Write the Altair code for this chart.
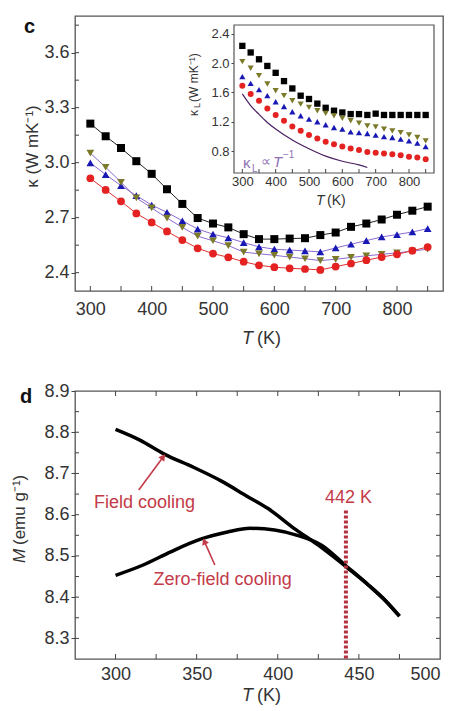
import altair as alt
import pandas as pd

FONT = "Liberation Sans"

# ---------------- panel c : main (total kappa) ----------------
T_K = [300, 325, 350, 375, 400, 425, 450, 475, 500, 525, 550, 575,
       600, 625, 650, 675, 700, 725, 750, 775, 800, 825, 850]

kappa_sq = [3.213, 3.144, 3.080, 3.008, 2.939, 2.855, 2.775, 2.698, 2.668, 2.647, 2.610, 2.583,
            2.583, 2.586, 2.588, 2.605, 2.619, 2.650, 2.668, 2.690, 2.716, 2.738, 2.760]
kappa_up = [2.999, 2.935, 2.875, 2.820, 2.769, 2.729, 2.683, 2.638, 2.610, 2.590, 2.564, 2.541,
            2.528, 2.523, 2.519, 2.513, 2.535, 2.555, 2.575, 2.595, 2.608, 2.622, 2.640]
kappa_down = [3.052, 2.975, 2.893, 2.808, 2.753, 2.698, 2.647, 2.599, 2.574, 2.548, 2.512, 2.503,
              2.495, 2.485, 2.476, 2.466, 2.473, 2.483, 2.492, 2.500, 2.508, 2.518, 2.528]
kappa_circ = [2.915, 2.851, 2.789, 2.723, 2.674, 2.625, 2.578, 2.533, 2.504, 2.484, 2.460, 2.440,
              2.430, 2.424, 2.420, 2.415, 2.433, 2.450, 2.468, 2.485, 2.500, 2.520, 2.540]

# ---------------- panel c : inset (lattice kappa) ----------------
kL_sq = [2.235, 2.145, 2.052, 1.961, 1.867, 1.754, 1.654, 1.555, 1.510, 1.447, 1.390, 1.350,
         1.326, 1.304, 1.304, 1.292, 1.310, 1.292, 1.292, 1.292, 1.292, 1.292, 1.292]
kL_up = [1.815, 1.724, 1.637, 1.555, 1.473, 1.408, 1.336, 1.281, 1.236, 1.199, 1.158, 1.121,
         1.098, 1.062, 1.052, 1.039, 1.016, 0.997, 0.984, 0.962, 0.938, 0.907, 0.860]
kL_down = [2.020, 1.930, 1.830, 1.715, 1.623, 1.555, 1.486, 1.440, 1.395, 1.350, 1.313, 1.281,
           1.245, 1.213, 1.180, 1.144, 1.130, 1.098, 1.075, 1.052, 1.020, 0.984, 0.938]
kL_circ = [1.692, 1.578, 1.486, 1.381, 1.290, 1.213, 1.134, 1.075, 1.020, 0.970, 0.925, 0.893,
           0.860, 0.833, 0.815, 0.788, 0.778, 0.765, 0.756, 0.742, 0.723, 0.710, 0.688]
fit_T = [300, 325, 350, 375, 400, 450, 500, 550, 600, 650, 675]
fit_kL = [1.58, 1.42, 1.30, 1.19, 1.10, 0.95, 0.83, 0.73, 0.66, 0.61, 0.575]

c_xticks = [300, 350, 400, 450, 500, 550, 600, 650, 700, 750, 800, 850]
c_xlabels = [300, 400, 500, 600, 700, 800]
c_ylabels = [2.4, 2.7, 3.0, 3.3, 3.6]
c_yminor = [2.4, 2.55, 2.7, 2.85, 3.0, 3.15, 3.3, 3.45, 3.6, 3.75]
in_xlabels = [300, 400, 500, 600, 700, 800]
in_xticks = [300, 350, 400, 450, 500, 550, 600, 650, 700, 750, 800, 850]
in_ylabels = [0.8, 1.2, 1.6, 2.0, 2.4]

# ---------------- panel d : magnetisation ----------------
fc_T = [300, 315, 330, 348, 365, 381, 394, 410, 425, 442, 456, 467, 475]
fc_M = [8.807, 8.781, 8.747, 8.715, 8.682, 8.645, 8.615, 8.567, 8.526, 8.474, 8.429, 8.389, 8.354]
zfc_T = [300, 317, 334, 352, 369, 383, 398, 412, 427, 442, 456, 467, 475]
zfc_M = [8.453, 8.478, 8.510, 8.540, 8.558, 8.567, 8.563, 8.550, 8.526, 8.476, 8.429, 8.389, 8.354]
tc_T = [442]
tc_M_top = [8.61]
tc_M_bot = [8.25]
d_xlabels = [300, 350, 400, 450, 500]
d_xticks = [300, 325, 350, 375, 400, 425, 450, 475]
d_ylabels = [8.3, 8.4, 8.5, 8.6, 8.7, 8.8, 8.9]
d_yminor = [8.3, 8.35, 8.4, 8.45, 8.5, 8.55, 8.6, 8.65, 8.7, 8.75, 8.8, 8.85]

labels_d = ["Field cooling", "Zero-field cooling", "442 K"]
labels_d_T = [317.8, 366.0, 443.6]
labels_d_M = [8.628, 8.441, 8.640]
arrow_T = [314.3, 361.2]
arrow_M = [8.660, 8.478]
arrow_T2 = [329.0, 355.0]
arrow_M2 = [8.738, 8.533]
arrow_angle = [37, 337]

W_C, H_C = 368, 275
W_D, H_D = 365, 268

RED = "#c33a48"
AX = "#444444"

# ---------- helpers: panel c main ----------
def xc(axis=None):
    return alt.X("T:Q", scale=alt.Scale(domain=[275, 875], nice=False, zero=False), axis=axis)

def yc(axis=None):
    return alt.Y("k:Q", scale=alt.Scale(domain=[2.3, 3.8], nice=False, zero=False), axis=axis)

ax_cx = alt.Axis(values=c_xlabels, title=None, tickSize=0, labelPadding=9, domain=False,
                 labelFontSize=18, grid=False)
ax_cy = alt.Axis(values=c_ylabels, format=".1f", title="κ (W mK⁻¹)", tickSize=4, labelPadding=2,
                 domain=False, labelFontSize=18, titleFontSize=17, grid=False,
                 titleX=-43, titleY=130, titleAngle=270, titleAlign="center",
                 titleBaseline="middle")

series = [
    (kappa_sq, kL_sq, "square", "#000000", "#222222", 64, 40),
    (kappa_up, kL_up, "triangle-up", "#1818b4", "#8a6ad0", 60, 38),
    (kappa_down, kL_down, "triangle-down", "#7a7a2a", "#8a6ad0", 60, 38),
    (kappa_circ, kL_circ, "circle", "#e42222", "#e03030", 60, 36),
]

main_layers = []
for i, (vals, _, shape, col, lcol, size, _s) in enumerate(series):
    df = pd.DataFrame({"T": T_K, "k": vals})
    base = alt.Chart(df)
    line = base.mark_line(color=lcol, strokeWidth=1).encode(x=xc(ax_cx), y=yc(ax_cy))
    pts = base.mark_point(shape=shape, filled=True, size=size, color=col, opacity=1).encode(
        x=xc(ax_cx), y=yc(ax_cy))
    main_layers += [line, pts]

cxt = alt.Chart(pd.DataFrame({"T": c_xticks})).mark_rule(color=AX, strokeWidth=1).encode(
    x=xc(ax_cx), y=alt.value(H_C), y2=alt.value(H_C - 5))
cyt = alt.Chart(pd.DataFrame({"k": c_yminor})).mark_rule(color=AX, strokeWidth=1).encode(
    y=yc(ax_cy), x=alt.value(0), x2=alt.value(4))

def txt(text, x, y, size, **kw):
    return alt.Chart(pd.DataFrame({"t": [text]})).mark_text(
        font=FONT, fontSize=size, **kw).encode(x=alt.value(x), y=alt.value(y), text="t:N")

c_title_T = txt("T", 167, 323, 18, fontStyle="italic", align="left", color="#333")
c_title_K = txt("(K)", 182, 323, 18, align="left", color="#333")
c_letter = txt("c", -51, 11, 20, fontWeight="bold", align="left", color="#111")

main = alt.layer(*main_layers, cxt, cyt, c_title_T, c_title_K, c_letter)

# ---------- inset ----------
def xi(axis=None):
    return alt.X("T:Q", scale=alt.Scale(domain=[275, 875], range=[159, 359], nice=False, zero=False),
                 axis=axis)

def yi(axis=None):
    return alt.Y("k:Q", scale=alt.Scale(domain=[0.5, 2.52], range=[157, 9], nice=False, zero=False),
                 axis=axis)

ax_ix = alt.Axis(orient="bottom", offset=-118, values=in_xlabels, title=None, tickSize=0,
                 labelPadding=2, domain=False, labelFontSize=13, grid=False)
ax_iy = alt.Axis(orient="left", offset=-159, values=in_ylabels, format=".1f", title=None,
                 tickSize=3, labelPadding=2, domain=False, labelFontSize=13, grid=False)

frame = alt.Chart(pd.DataFrame({"T": [275], "k": [0.5], "T2": [875], "k2": [2.52]})).mark_rect(
    fill="white", stroke="#555", strokeWidth=1.2).encode(
    x=xi(ax_ix), y=yi(ax_iy), x2="T2:Q", y2="k2:Q")

inset_layers = [frame]
for vals_main, vals, shape, col, lcol, size, ssize in series:
    df = pd.DataFrame({"T": T_K, "k": vals})
    inset_layers.append(alt.Chart(df).mark_point(shape=shape, filled=True, size=ssize, color=col,
                                                 opacity=1).encode(x=xi(ax_ix), y=yi(ax_iy)))

fit = alt.Chart(pd.DataFrame({"T": fit_T, "k": fit_kL})).mark_line(
    color="#4a2060", strokeWidth=1.2, interpolate="monotone").encode(x=xi(ax_ix), y=yi(ax_iy))
ixt = alt.Chart(pd.DataFrame({"T": in_xticks})).mark_rule(color=AX, strokeWidth=1).encode(
    x=xi(ax_ix), y=alt.value(157), y2=alt.value(153))

PUR = "#9070b4"
leg = [
    txt("κ", 168, 147, 15, align="left", baseline="middle", color=PUR),
    txt("L", 177, 153, 10, align="left", baseline="middle", color=PUR),
    txt("∝", 186, 146, 14, align="left", baseline="middle", color=PUR),
    txt("T", 198, 146, 15, align="left", baseline="middle", fontStyle="italic", color=PUR),
    txt("−1", 208, 139, 10, align="left", baseline="middle", color=PUR),
]
iy_title = [
    txt("κ", 119, 100, 12, align="left", baseline="middle", angle=270, color="#333"),
    txt("L", 122, 92, 9, align="left", baseline="middle", angle=270, color="#333"),
    txt("(W mK⁻¹)", 119, 86, 12, align="left", baseline="middle", angle=270, color="#333"),
]
ix_title = [
    txt("T", 241, 185, 14, align="left", baseline="middle", fontStyle="italic", color="#333"),
    txt("(K)", 252, 185, 14, align="left", baseline="middle", color="#333"),
]

inset = alt.layer(*inset_layers, fit, ixt, *leg, *iy_title, *ix_title)

panel_c = alt.layer(main, inset).resolve_scale(x="independent", y="independent").properties(
    width=W_C, height=H_C)

# ---------- panel d ----------
def xd(axis=None):
    return alt.X("T:Q", scale=alt.Scale(domain=[275, 500], nice=False, zero=False), axis=axis)

def yd(axis=None):
    return alt.Y("M:Q", scale=alt.Scale(domain=[8.25, 8.9], nice=False, zero=False), axis=axis)

ax_dx = alt.Axis(values=d_xlabels, title=None, tickSize=0, labelPadding=6, domain=False,
                 labelFontSize=18, grid=False)
ax_dy = alt.Axis(values=d_ylabels, format=".1f", title=None, tickSize=4, labelPadding=2,
                 domain=False, labelFontSize=18, grid=False)

fc = alt.Chart(pd.DataFrame({"T": fc_T, "M": fc_M})).mark_line(
    color="black", strokeWidth=3.5, interpolate="monotone").encode(x=xd(ax_dx), y=yd(ax_dy))
zfc = alt.Chart(pd.DataFrame({"T": zfc_T, "M": zfc_M})).mark_line(
    color="black", strokeWidth=3.5, interpolate="monotone").encode(x=xd(ax_dx), y=yd(ax_dy))
tc = alt.Chart(pd.DataFrame({"T": tc_T, "M": tc_M_top, "M2": tc_M_bot})).mark_rule(
    color="#b3303f", strokeWidth=4, strokeDash=[3, 2]).encode(x=xd(ax_dx), y=yd(ax_dy), y2="M2:Q")

lab = alt.Chart(pd.DataFrame({"T": labels_d_T, "M": labels_d_M, "t": labels_d})).mark_text(
    font=FONT, fontSize=18, color=RED, align="center", baseline="middle").encode(
    x=xd(ax_dx), y=yd(ax_dy), text="t:N")
adf = pd.DataFrame({"T": arrow_T, "M": arrow_M, "T2": arrow_T2, "M2": arrow_M2, "a": arrow_angle})
shaft = alt.Chart(adf).mark_rule(color=RED, strokeWidth=1.6).encode(
    x=xd(ax_dx), y=yd(ax_dy), x2="T2:Q", y2="M2:Q")
head = alt.Chart(adf).transform_calculate(Th="datum.T2", Mh="datum.M2").mark_point(
    shape="triangle", filled=True, size=55, color=RED, opacity=1).encode(
    x=alt.X("Th:Q", scale=alt.Scale(domain=[275, 500], nice=False, zero=False), axis=ax_dx,
            title=None),
    y=alt.Y("Mh:Q", scale=alt.Scale(domain=[8.25, 8.9], nice=False, zero=False), axis=ax_dy),
    angle=alt.Angle("a:Q", scale=None))

dbt = alt.Chart(pd.DataFrame({"T": d_xticks})).mark_rule(color=AX, strokeWidth=1).encode(
    x=xd(ax_dx), y=alt.value(H_D), y2=alt.value(H_D - 5))
dtt = alt.Chart(pd.DataFrame({"T": d_xticks})).mark_rule(color=AX, strokeWidth=1).encode(
    x=xd(ax_dx), y=alt.value(0), y2=alt.value(5))
dlt = alt.Chart(pd.DataFrame({"M": d_yminor})).mark_rule(color=AX, strokeWidth=1).encode(
    y=yd(ax_dy), x=alt.value(0), x2=alt.value(4))
drt = alt.Chart(pd.DataFrame({"M": d_yminor})).mark_rule(color=AX, strokeWidth=1).encode(
    y=yd(ax_dy), x=alt.value(W_D), x2=alt.value(W_D - 4))

d_title_T = txt("T", 167, 305, 18, fontStyle="italic", align="left", color="#333")
d_title_K = txt("(K)", 182, 305, 18, align="left", color="#333")
d_ytitle_M = txt("M", -55, 172, 17, fontStyle="italic", align="left", baseline="middle",
                 angle=270, color="#333")
d_ytitle_u = txt("(emu g⁻¹)", -55, 154, 17, align="left", baseline="middle",
                 angle=270, color="#333")
d_letter = txt("d", -55, 6, 20, fontWeight="bold", align="left", color="#111")

panel_d = alt.layer(fc, zfc, tc, shaft, head, lab, dbt, dtt, dlt, drt,
                    d_title_T, d_title_K, d_ytitle_M, d_ytitle_u, d_letter).properties(
    width=W_D, height=H_D)

chart = alt.vconcat(panel_c, panel_d, spacing=32).properties(
    padding={"left": 2, "top": 7, "right": 2, "bottom": 2}
).configure_view(stroke="#555", strokeWidth=1.3).configure_axis(
    labelFont=FONT, titleFont=FONT, labelColor="#333", titleColor="#333", grid=False,
    tickColor=AX, titleFontWeight="normal")

chart.save("out.html", embed_options={"renderer": "svg", "actions": False})
